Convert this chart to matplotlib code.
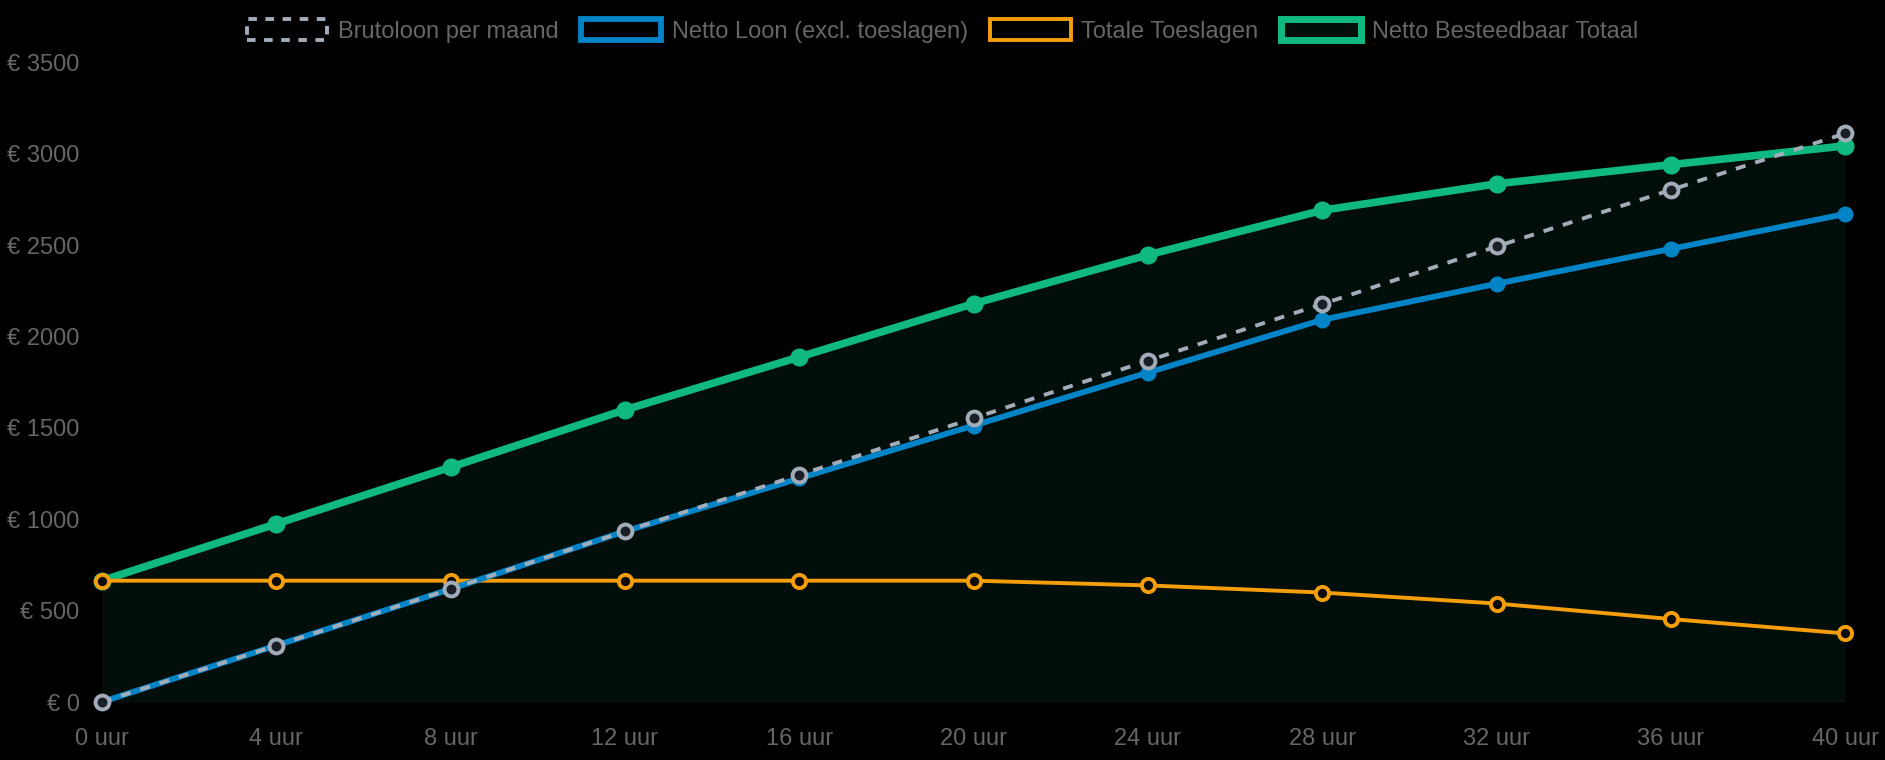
import matplotlib.pyplot as plt
from matplotlib.patches import Patch

plt.rcParams['font.family'] = ['Liberation Sans', 'DejaVu Sans']

hours = [0, 4, 8, 12, 16, 20, 24, 28, 32, 36, 40]
bruto = [0, 309, 618, 934, 1243, 1553, 1868, 2178, 2493, 2803, 3112]
netto = [0, 309, 618, 934, 1224, 1513, 1803, 2092, 2289, 2480, 2671]
toeslagen = [664, 664, 664, 664, 664, 664, 638, 599, 539, 454, 375]
besteedbaar = [664, 975, 1285, 1599, 1888, 2180, 2447, 2691, 2836, 2941, 3044]

labels = ["Brutoloon per maand", "Netto Loon (excl. toeslagen)",
          "Totale Toeslagen", "Netto Besteedbaar Totaal"]
x_labels = [f"{h} uur" for h in hours]
y_ticks = [0, 500, 1000, 1500, 2000, 2500, 3000, 3500]

c_gray = '#a3acb9'
c_blue = '#0284c7'
c_orange = '#f59e0b'
c_green = '#10b981'
c_fill = '#020e0a'
c_text = '#666666'

fig = plt.figure(figsize=(18.85, 7.6), dpi=100, facecolor='black')
ax = fig.add_axes([0.054, 0.0763, 0.925, 0.8415], facecolor='black')

ax.fill_between(hours, besteedbaar, 0, color=c_fill, lw=0, zorder=1)
ax.plot(hours, besteedbaar, color=c_green, lw=5.5, marker='o', ms=12,
        mfc=c_green, mec=c_green, clip_on=False, zorder=2)
ax.plot(hours, toeslagen, color=c_orange, lw=2.8, marker='o', ms=9.5,
        mfc='#0a0a0a', mec=c_orange, mew=2.8, clip_on=False, zorder=3)
ax.plot(hours, netto, color=c_blue, lw=4.2, marker='o', ms=10.5,
        mfc=c_blue, mec=c_blue, clip_on=False, zorder=4)
ax.plot(hours, bruto, color=c_gray, lw=2.8, ls=(0, (2.6, 2.6)), marker='o', ms=10,
        mfc='#1a1f26', mec=c_gray, mew=2.8, clip_on=False, zorder=5)

ax.set_xlim(0, 40)
ax.set_ylim(0, 3500)
ax.set_xticks(hours)
ax.set_xticklabels(x_labels)
ax.set_yticks(y_ticks)
ax.set_yticklabels([f"€ {v}" for v in y_ticks])
ax.tick_params(colors=c_text, labelsize=17, length=0)
ax.tick_params(axis='y', pad=16)
ax.tick_params(axis='x', pad=19)
for s in ax.spines.values():
    s.set_visible(False)

handles = [
    Patch(facecolor='black', edgecolor=c_gray, lw=2.8, ls=(0, (2.2, 2.2))),
    Patch(facecolor='black', edgecolor=c_blue, lw=4.2),
    Patch(facecolor='black', edgecolor=c_orange, lw=2.8),
    Patch(facecolor=c_fill, edgecolor=c_green, lw=5.0),
]
leg = fig.legend(handles, labels, loc='center', bbox_to_anchor=(0.5, 0.959),
                 ncol=4, frameon=False, fontsize=17, handlelength=3.4,
                 handleheight=1.0, handletextpad=0.45, columnspacing=0.95)
for t in leg.get_texts():
    t.set_color(c_text)

fig.savefig('out.png', dpi=100, facecolor='black')
